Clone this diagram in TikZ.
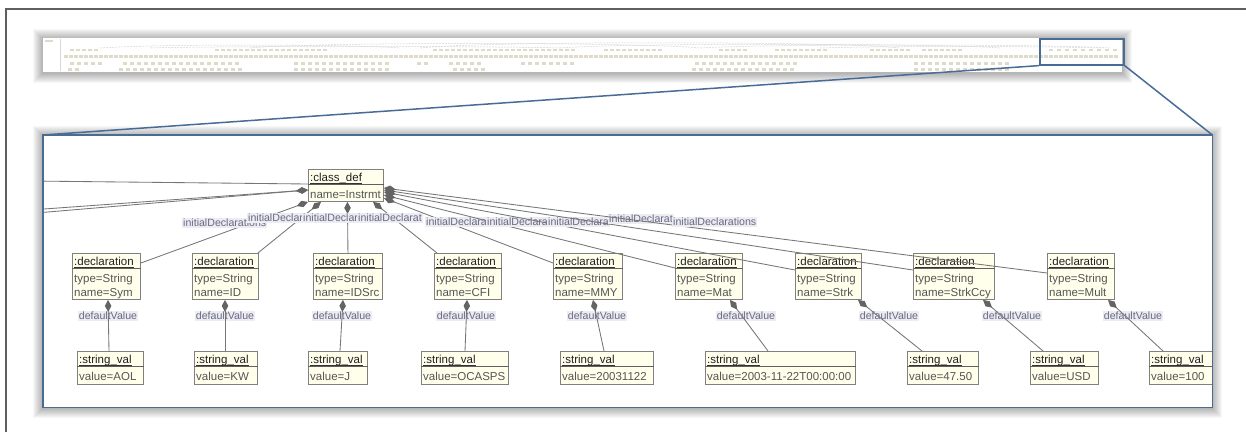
\documentclass[tikz,border=0pt]{standalone}
\usepackage{fontspec}
\setmainfont{Liberation Sans}
\usetikzlibrary{arrows.meta,calc}

\definecolor{boxfill}{RGB}{255,255,236}
\definecolor{boxborder}{RGB}{128,128,128}
\definecolor{attrgrey}{RGB}{85,85,85}
\definecolor{conngrey}{RGB}{118,118,118}
\definecolor{diamgrey}{RGB}{100,100,100}
\definecolor{lblcol}{RGB}{105,105,132}
\definecolor{lblfill}{RGB}{236,236,242}
\definecolor{zoomblue}{RGB}{72,108,150}
\definecolor{framegrey}{RGB}{95,95,95}
\definecolor{thumbbox}{RGB}{222,220,200}
\definecolor{thumbln}{RGB}{215,215,215}

\tikzset{
  objbox/.style={draw=boxborder, fill=boxfill, line width=0.9pt, inner sep=0pt, anchor=north west},
  sepline/.style={draw=boxborder!75!black, line width=1.1pt},
  underl/.style={draw=black!80, line width=0.6pt},
  hdr/.style={font=\fontsize{11.5}{13}\selectfont, text=black!88, inner sep=0pt, anchor=base west},
  attr/.style={font=\fontsize{11.5}{13}\selectfont, text=attrgrey, inner sep=0pt, anchor=base west},
  conn/.style={draw=conngrey, line width=0.85pt},
  compst/.style={conn, {Diamond[length=12pt,width=6.5pt,fill=diamgrey,color=diamgrey]}-},
  compend/.style={conn, -{Diamond[length=12pt,width=6.5pt,fill=diamgrey,color=diamgrey]}},
  rolelbl/.style={font=\fontsize{10.6}{12}\selectfont, text=lblcol, fill=lblfill, inner xsep=1pt, inner ysep=1pt},
  zoomline/.style={draw=zoomblue, line width=1.5pt},
  panel/.style={fill=white, inner sep=0pt, anchor=north west},
}

\newcommand\uobj[8]{%
  \node[objbox, minimum width=#4, minimum height=#5] (#1) at (#2,#3) {};
  \node[hdr] (#1-h) at ($(#1.north west)+(2,12.5)$) {#6};
  \draw[underl] ($(#1-h.base west)+(0,2)$) -- ($(#1-h.base east)+(0,2)$);
  \draw[sepline] ($(#1.north west)+(0,15.5)$) -- ($(#1.north east)+(0,15.5)$);
  \node[attr] (#1-a) at ($(#1.north west)+(2,29)$) {#7};
  \node[attr] (#1-b) at ($(#1.north west)+(2,43)$) {#8};
}
\newcommand\trow[4]{%
  \pgfmathtruncatemacro\tnext{#2+#4}%
  \foreach \xx in {#2,\tnext,...,#3}{\fill[thumbbox] (\xx,#1) rectangle ++(4,2.5);}%
}

\begin{document}
\begin{tikzpicture}[x=1pt,y=-1pt]
\useasboundingbox (0,0) rectangle (1246,432);
\fill[white] (0,0) rectangle (1246,432);
% outer window frame
\draw[framegrey, line width=2pt] (6,432) -- (6,9) -- (1246,9);

% ---- thumbnail ----
\foreach \i in {1,...,10} {\fill[black, opacity=0.03] (43-\i,39-\i) rectangle (1122+\i,73+\i);}
\node[panel, minimum width=1079, minimum height=34] (thumb) at (43,38) {};
\draw[thumbln, line width=0.6pt] (60,39) -- (60,71);
\fill[thumbbox] (45,40) rectangle (53,42);
\foreach \a/\b/\h in {100/400/44, 250/700/42, 420/900/41, 560/1000/43, 700/1110/44, 150/560/46, 820/1100/46}
  {\draw[thumbln, line width=0.5pt, dash pattern=on 2pt off 1pt] (\a,48) .. controls (\a+60,\h) and (\b-60,\h) .. (\b,48);}
\trow{48.5}{70}{99}{6}
\trow{48.5}{215}{326}{6}
\trow{48.5}{433}{572}{6}
\trow{48.5}{604}{660}{6}
\trow{48.5}{719}{743}{6}
\trow{48.5}{775}{827}{6}
\trow{48.5}{870}{906}{6}
\trow{48.5}{922}{962}{6}
\trow{48.5}{1049}{1117}{8}
\trow{55}{64}{1117}{5}
\trow{62}{70}{99}{7}
\trow{62}{123}{238}{7}
\trow{62}{294}{390}{7}
\trow{62}{417}{420}{7}
\trow{62}{449}{481}{7}
\trow{62}{521}{572}{7}
\trow{62}{695}{799}{7}
\trow{62}{914}{1010}{7}
\trow{68}{68}{80}{7}
\trow{68}{119}{238}{7}
\trow{68}{294}{390}{7}
\trow{68}{453}{481}{7}
\trow{68}{692}{795}{7}
\trow{68}{914}{1010}{7}
\node[draw=zoomblue, line width=1.6pt, minimum width=84, minimum height=26, inner sep=0pt, anchor=north west] (zoombox) at (1039,38) {};

% ---- enlarged panel ----
\foreach \i in {1,...,10} {\fill[black, opacity=0.03] (43-\i,136-\i) rectangle (1212+\i,408+\i);}
\node[panel, minimum width=1169, minimum height=272] (mainframe) at (43,135) {};
\draw[zoomline] (zoombox.south west) -- (mainframe.north west);
\draw[zoomline] (zoombox.south east) -- (mainframe.north east);

\begin{scope}
\clip (mainframe.north west) rectangle (mainframe.south east);
\coordinate (L1) at (30,181);
\coordinate (L2) at (30,210);
\coordinate (L3) at (30,213.5);

\uobj{c}{308}{169}{75}{32}{:class\_def}{name=Instrmt}{}
\uobj{d1}{72}{253}{68}{46}{:declaration}{type=String}{name=Sym}
\uobj{d2}{192}{253}{66}{46}{:declaration}{type=String}{name=ID}
\uobj{d3}{313}{253}{69}{46}{:declaration}{type=String}{name=IDSrc}
\uobj{d4}{434}{253}{67}{46}{:declaration}{type=String}{name=CFI}
\uobj{d5}{553}{253}{69}{46}{:declaration}{type=String}{name=MMY}
\uobj{d6}{675}{253}{67}{46}{:declaration}{type=String}{name=Mat}
\uobj{d7}{795}{253}{66}{46}{:declaration}{type=String}{name=Strk}
\uobj{d8}{913}{253}{81}{46}{:declaration}{type=String}{name=StrkCcy}
\uobj{d9}{1047}{253}{67}{46}{:declaration}{type=String}{name=Mult}

\uobj{s1}{77}{351}{66}{33}{:string\_val}{value=AOL}{}
\uobj{s2}{194}{351}{63}{33}{:string\_val}{value=KW}{}
\uobj{s3}{308}{351}{59}{33}{:string\_val}{value=J}{}
\uobj{s4}{421}{351}{87}{33}{:string\_val}{value=OCASPS}{}
\uobj{s5}{560}{351}{93}{33}{:string\_val}{value=20031122}{}
\uobj{s6}{705}{351}{150}{33}{:string\_val}{value=2003-11-22T00:00:00}{}
\uobj{s7}{907}{351}{71}{33}{:string\_val}{value=47.50}{}
\uobj{s8}{1030}{351}{68}{33}{:string\_val}{value=USD}{}
\uobj{s9}{1149}{351}{70}{33}{:string\_val}{value=100}{}

% lines from outside the panel
\draw[conn] (L1) -- ($(c.north west)+(0,15)$);
\draw[compend] (L2) -- ($(c.north west)+(0,21)$);
\draw[compend] (L3) -- ($(c.north west)+(0,21)$);

% initialDeclarations (labels cut off as printed)
\draw[compst] (c.south west) -- ($(d1.north east)+(0,10)$);
\node[rolelbl, anchor=west] (id1) at (182,223) {initialDeclarations};
\draw[compst] ($(c.south west)+(13,0)$) -- ($(d2.north east)+(-1,0)$);
\node[rolelbl, anchor=west] (id2) at (247,218) {initialDeclar};
\draw[compst] ($(c.south)+(1.5,0)$) -- ($(d3.north)+(0,0)$);
\node[rolelbl, anchor=west] (id3) at (302,218) {initialDeclar};
\draw[compst] ($(c.south west)+(65,0)$) -- ($(d4.north west)+(3,0)$);
\node[rolelbl, anchor=west] (id4) at (357,218) {initialDeclarat};
\draw[compst] ($(c.north east)+(0,29)$) -- ($(d5.north west)+(0,10)$);
\node[rolelbl, anchor=west] (id5) at (425,222) {initialDeclara};
\draw[compst] ($(c.north east)+(0,26)$) -- ($(d6.north west)+(0,15)$);
\node[rolelbl, anchor=west] (id6) at (486,222) {initialDeclara};
\draw[compst] ($(c.north east)+(0,23)$) -- ($(d7.north west)+(0,17)$);
\node[rolelbl, anchor=west] (id7) at (547,222) {initialDeclara};
\draw[compst] ($(c.north east)+(0,21)$) -- ($(d8.north west)+(0,17)$);
\node[rolelbl, anchor=west] (id8) at (608,219) {initialDeclarat};
\draw[compst] ($(c.north east)+(0,19)$) -- ($(d9.north west)+(0,20)$);
\node[rolelbl, anchor=west] (id9) at (672,222) {initialDeclarations};

% defaultValue
\node[rolelbl] (dv1) at (108,316) {defaultValue};
\node[rolelbl] (dv2) at (225,316) {defaultValue};
\node[rolelbl] (dv3) at (342,316) {defaultValue};
\node[rolelbl] (dv4) at (466,316) {defaultValue};
\node[rolelbl] (dv5) at (597,316) {defaultValue};
\node[rolelbl] (dv6) at (746,316) {defaultValue};
\node[rolelbl] (dv7) at (889,316) {defaultValue};
\node[rolelbl] (dv8) at (1012,316) {defaultValue};
\node[rolelbl] (dv9) at (1133,316) {defaultValue};
\draw[compst] ($(d1.south west)+(36,0)$) -- ($(s1.north west)+(32,0)$);
\draw[compst] ($(d2.south west)+(33,0)$) -- ($(s2.north west)+(31,0)$);
\draw[compst] ($(d3.south west)+(30,0)$) -- ($(s3.north west)+(32,0)$);
\draw[compst] ($(d4.south west)+(33,0)$) -- ($(s4.north west)+(44,0)$);
\draw[compst] ($(d5.south west)+(40,0)$) -- ($(s5.north west)+(44,0)$);
\draw[compst] ($(d6.south west)+(55,0)$) -- ($(s6.north west)+(63,0)$);
\draw[compst] ($(d7.south west)+(63,0)$) -- ($(s7.north west)+(15,0)$);
\draw[compst] ($(d8.south west)+(70,0)$) -- ($(s8.north west)+(13,0)$);
\draw[compst] ($(d9.south west)+(61,0)$) -- ($(s9.north west)+(14,0)$);
\end{scope}
\draw[draw=zoomblue, line width=1.8pt] (mainframe.north west) rectangle (mainframe.south east);
\end{tikzpicture}
\end{document}
